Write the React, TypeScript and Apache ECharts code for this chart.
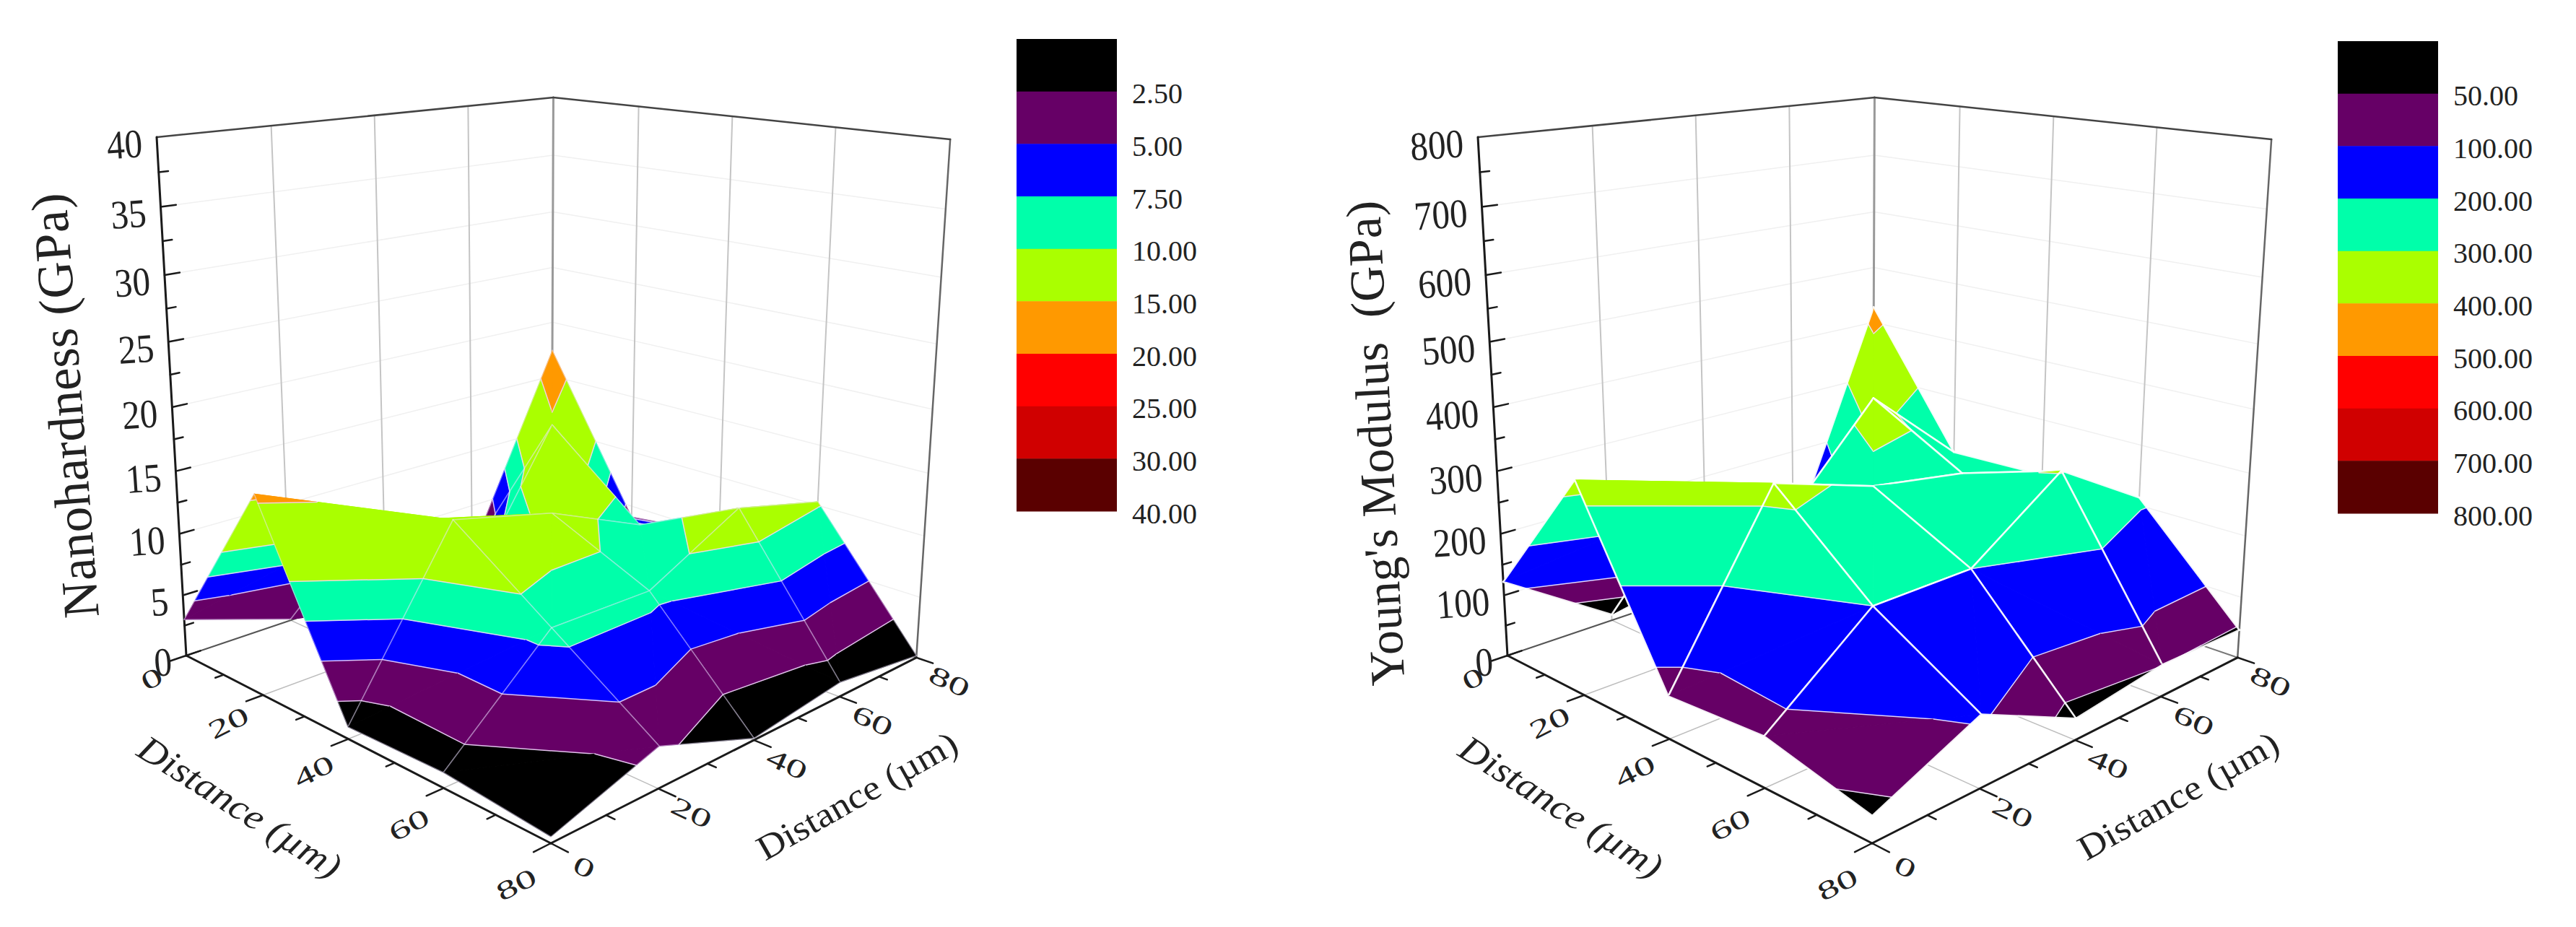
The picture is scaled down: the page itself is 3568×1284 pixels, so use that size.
import React, { useEffect, useRef } from "react";
import * as echarts from "echarts";

const distances = [0, 20, 40, 60, 80];
const distanceMinor = [10, 30, 50, 70];

const hardnessTicks = [0, 5, 10, 15, 20, 25, 30, 35, 40];
const modulusTicks = [0, 100, 200, 300, 400, 500, 600, 700, 800];

// rows: first distance axis (left front edge); columns: second distance axis (right front edge)
const hardnessValues = [
  [3.0, 0.1, 0.5, 0.8, 17.4],
  [15.6, 11, 2, 14.55, 4],
  [0.92, 13.7, 11.75, 8.3, 5],
  [1.13, 8.4, 8.3, 12.2, 10.3],
  [0.45, 3.08, 0.14, 1.15, 0.16],
];
const modulusValues = [
  [122, 10, 30, 40, 428],
  [333, 250, 170, 337, 200],
  [65, 329, 278, 253, 205],
  [75, 200, 200, 303, 213],
  [38, 107, 33, 51, 46],
];

const hardnessLevels = [2.5, 5, 7.5, 10, 15, 20, 25, 30, 40];
const modulusLevels = [50, 100, 200, 300, 400, 500, 600, 700, 800];
const hardnessLevelLabels = ["2.50", "5.00", "7.50", "10.00", "15.00", "20.00", "25.00", "30.00", "40.00"];
const modulusLevelLabels = ["50.00", "100.00", "200.00", "300.00", "400.00", "500.00", "600.00", "700.00", "800.00"];
const bandColors = ["#000000", "#660066", "#0000FF", "#00FFAA", "#AAFF00", "#FF9900", "#FF0000", "#D00000", "#5A0000"];

const FONT = "'Liberation Serif', serif";
const L = [258, 908];
const F = [763, 1168];
const B = [764, 737];
const T = [217, 190];
const wF = 0.8;
const wB = 1.2;
const wT = 0.92;

type Plot = {
  ox: number; zMax: number; values: number[][]; levels: number[]; labels: string[]; zTicks: number[];
  zMinor: number; title: string; titleSize: number; titleAt: number[]; titleRot: number;
  legendX: number[]; legendY: number[]; labelX: number;
  meshColor: string; meshWidth: number; contourColor: string; mergeLowest: number[][];
};

const plots: Plot[] = [
  {
    ox: 0, zMax: 40, values: hardnessValues, levels: hardnessLevels, labels: hardnessLevelLabels, zTicks: hardnessTicks,
    zMinor: 2.5, title: "Nanohardness (GPa)", titleSize: 71, titleAt: [90, 562], titleRot: 94.5,
    legendX: [1408, 1547], legendY: [54, 708], labelX: 1568,
    meshColor: "rgba(238,228,255,0.5)", meshWidth: 1.5, contourColor: "rgba(238,215,250,0.9)", mergeLowest: [[0, 0], [0, 1]],
  },
  {
    ox: 1830, zMax: 800, values: modulusValues, levels: modulusLevels, labels: modulusLevelLabels, zTicks: modulusTicks,
    zMinor: 50, title: "Young's Modulus  (GPa)", titleSize: 68, titleAt: [1905, 614], titleRot: 93,
    legendX: [3238, 3377], legendY: [57, 711], labelX: 3398,
    meshColor: "rgba(255,255,255,0.92)", meshWidth: 2.5, contourColor: "rgba(238,225,250,0.95)", mergeLowest: [],
  },
];

function project(p: Plot, u: number, v: number, z: number) {
  const s = u / 80, t = v / 80, r = z / p.zMax;
  const hx = L[0] + s * (wF * F[0] - L[0]) + t * (wB * B[0] - L[0]) + r * (wT * T[0] - L[0]);
  const hy = L[1] + s * (wF * F[1] - L[1]) + t * (wB * B[1] - L[1]) + r * (wT * T[1] - L[1]);
  const hw = 1 + s * (wF - 1) + t * (wB - 1) + r * (wT - 1);
  return [p.ox + hx / hw, hy / hw];
}

const seg = (a: number[], b: number[], stroke: string, lineWidth: number) => ({
  type: "line",
  shape: { x1: a[0], y1: a[1], x2: b[0], y2: b[1] },
  style: { stroke, lineWidth, lineCap: "round" },
});

const label = (text: string, x: number, y: number, o: any = {}) => ({
  type: "text",
  x, y,
  rotation: ((o.rot || 0) * Math.PI) / 180,
  scaleX: o.sx || 1,
  scaleY: o.sy || 1,
  style: {
    text, x: 0, y: 0,
    font: `${o.italic ? "italic " : ""}${o.size || 48}px ${FONT}`,
    fill: o.fill || "#222222",
    align: o.align || "center",
    verticalAlign: "middle",
  },
});

function clip(poly: number[][], level: number, keepAbove: boolean) {
  const out: number[][] = [];
  for (let i = 0; i < poly.length; i++) {
    const a = poly[i], b = poly[(i + 1) % poly.length];
    const ina = keepAbove ? a[2] >= level : a[2] <= level;
    const inb = keepAbove ? b[2] >= level : b[2] <= level;
    if (ina) out.push(a);
    if (ina !== inb) {
      const f = (level - a[2]) / (b[2] - a[2]);
      out.push([a[0] + f * (b[0] - a[0]), a[1] + f * (b[1] - a[1]), level]);
    }
  }
  return out;
}

function triangleElements(p: Plot, tri: number[][], merge: boolean) {
  const els: any[] = [];
  const bounds = [-Infinity, ...p.levels];
  bounds.forEach((lo, i) => {
    if (merge && i === 1) return;
    const hi = merge && i === 0 ? p.levels[1] : p.levels[i] ?? Infinity;
    let poly = clip(tri, lo, true);
    if (poly.length) poly = clip(poly, hi, false);
    if (poly.length < 3) return;
    const fill = merge && i === 0 ? bandColors[1] : bandColors[i];
    els.push({
      type: "polygon",
      shape: { points: poly.map((q) => project(p, q[0], q[1], q[2])) },
      style: { fill, stroke: fill, lineWidth: 1 },
    });
  });
  p.levels.forEach((lv, i) => {
    if (merge && i === 0) return;
    const pts: number[][] = [];
    for (let k = 0; k < 3; k++) {
      const a = tri[k], b = tri[(k + 1) % 3];
      if ((a[2] < lv) !== (b[2] < lv)) {
        const f = (lv - a[2]) / (b[2] - a[2]);
        pts.push(project(p, a[0] + f * (b[0] - a[0]), a[1] + f * (b[1] - a[1]), lv));
      }
    }
    if (pts.length === 2) els.push(seg(pts[0], pts[1], p.contourColor, 1.5));
  });
  return els;
}

function surfaceGroups(p: Plot) {
  const cells: number[][] = [];
  for (let i = 0; i < 4; i++) for (let j = 0; j < 4; j++) cells.push([i, j]);
  cells.sort((a, b) => a[0] - a[1] - (b[0] - b[1]));
  return cells.map(([i, j]) => {
    const n = (a: number, b: number) => [distances[a], distances[b], p.values[a][b]];
    const a = n(i, j), b = n(i + 1, j), c = n(i + 1, j + 1), d = n(i, j + 1);
    const merge = p.mergeLowest.some((m) => m[0] === i && m[1] === j);
    // each triangle lists its two outer mesh edges after its diagonal edge (first to second vertex)
    const tris = Math.abs(a[2] - c[2]) <= Math.abs(b[2] - d[2]) ? [[a, c, d], [a, c, b]] : [[b, d, a], [b, d, c]];
    const children: any[] = [];
    tris.forEach((t) => {
      children.push(...triangleElements(p, t, merge));
      const q = t.map((o) => project(p, o[0], o[1], o[2]));
      children.push(seg(q[1], q[2], p.meshColor, p.meshWidth));
      children.push(seg(q[2], q[0], p.meshColor, p.meshWidth));
    });
    return { type: "group", children };
  });
}

function frameGroup(p: Plot) {
  const c: any[] = [];
  const P = (u: number, v: number, z: number) => project(p, u, v, z);
  const z1 = p.zMax;
  p.zTicks.slice(1, -1).forEach((z) => {
    c.push(seg(P(0, 0, z), P(0, 80, z), "#f0f0f0", 1.5));
    c.push(seg(P(0, 80, z), P(80, 80, z), "#f0f0f0", 1.5));
  });
  [20, 40, 60].forEach((d) => {
    c.push(seg(P(0, d, 0), P(0, d, z1), "#c4c4c4", 2));
    c.push(seg(P(d, 80, 0), P(d, 80, z1), "#c4c4c4", 2));
    c.push(seg(P(d, 0, 0), P(d, 80, 0), "#bdbdbd", 1.5));
    c.push(seg(P(0, d, 0), P(80, d, 0), "#bdbdbd", 1.5));
  });
  c.push(seg(P(0, 80, 0), P(0, 80, z1), "#999999", 3));
  c.push(seg(P(80, 80, 0), P(80, 80, z1), "#666666", 2.5));
  c.push(seg(P(0, 0, 0), P(0, 80, 0), "#555555", 2));
  c.push(seg(P(0, 80, 0), P(80, 80, 0), "#777777", 2));
  c.push(seg(P(0, 0, z1), P(0, 80, z1), "#444444", 2.5));
  c.push(seg(P(0, 80, z1), P(80, 80, z1), "#444444", 2.5));
  // axes
  c.push(seg(P(0, 0, 0), P(0, 0, z1), "#1a1a1a", 3));
  c.push(seg(P(0, 0, 0), P(80, 0, 0), "#1a1a1a", 3));
  c.push(seg(P(80, 0, 0), P(80, 80, 0), "#1a1a1a", 3));
  distances.forEach((d) => {
    c.push(seg(P(d, 0, 0), P(d, -3, 0), "#1a1a1a", 2.5));
    c.push(seg(P(80, d, 0), P(83, d, 0), "#1a1a1a", 2.5));
  });
  distanceMinor.forEach((d) => {
    c.push(seg(P(d, 0, 0), P(d, -1.5, 0), "#1a1a1a", 2.5));
    c.push(seg(P(80, d, 0), P(81.5, d, 0), "#1a1a1a", 2.5));
  });
  p.zTicks.slice(0, -1).forEach((z) => {
    c.push(seg(P(0, 0, z), P(0, 2.6, z), "#1a1a1a", 2.5));
    c.push(seg(P(0, 0, z + p.zMinor), P(0, 1.6, z + p.zMinor), "#1a1a1a", 2.5));
  });
  return { type: "group", children: c };
}

function textGroup(p: Plot) {
  const c: any[] = [];
  p.zTicks.forEach((z) => {
    const q = project(p, 0, 0, z);
    c.push(label(String(z), q[0] - 20, q[1] + 8, { size: 56, align: "right", sx: 0.88, rot: 4 }));
  });
  distances.forEach((d) => {
    const a = project(p, d, 0, 0);
    c.push(label(String(d), a[0] - 48, a[1] + 32 + (25 * d) / 80, { size: 58, rot: 27, sy: 0.62 }));
    const b = project(p, 80, d, 0);
    c.push(label(String(d), b[0] + 46, b[1] + 33, { size: 58, rot: -25, sy: 0.62 }));
  });
  c.push(label(p.title, p.titleAt[0], p.titleAt[1], { size: p.titleSize, rot: p.titleRot }));
  c.push(label("Distance (µm)", p.ox + 332, 1118, { size: 56, rot: -32.5, italic: true, sy: 0.9 }));
  c.push(label("Distance (µm)", p.ox + 1187, 1102, { size: 54, rot: 29.5, sy: 0.9 }));
  const h = (p.legendY[1] - p.legendY[0]) / bandColors.length;
  bandColors.forEach((fill, i) => {
    c.push({
      type: "rect",
      shape: { x: p.legendX[0], y: p.legendY[0] + i * h, width: p.legendX[1] - p.legendX[0], height: h + 0.5 },
      style: { fill },
    });
    c.push(label(p.labels[i], p.labelX, p.legendY[0] + (i + 1) * h + 3, { size: 40, align: "left" }));
  });
  return { type: "group", children: c };
}

export default function App() {
  const ref = useRef<HTMLDivElement>(null);
  useEffect(() => {
    document.body.style.margin = "0";
    const chart = echarts.init(ref.current as HTMLDivElement, undefined, { renderer: "svg" });
    const series = plots.map((p) => {
      const groups = [frameGroup(p), ...surfaceGroups(p), textGroup(p)];
      return {
        type: "custom",
        coordinateSystem: "none",
        silent: true,
        clip: false,
        data: groups.map((_, i) => [i]),
        renderItem: (params: any) => groups[params.dataIndex],
      };
    });
    chart.setOption({ animation: false, backgroundColor: "#ffffff", series } as any);
    return () => chart.dispose();
  }, []);
  return <div ref={ref} style={{ width: 3568, height: 1284 }} />;
}
